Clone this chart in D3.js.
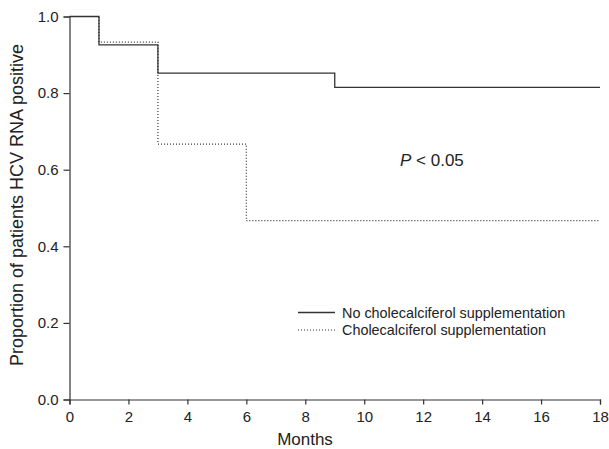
<!DOCTYPE html>
<html><head><meta charset="utf-8">
<script src="https://cdn.jsdelivr.net/npm/d3@7"></script>
<style>body{margin:0;background:#fff}svg{display:block}text{font-family:"Liberation Sans",Arial,sans-serif;fill:#222}</style>
</head><body><svg id="c" width="609" height="449"></svg>
<script>
// step-function data (time in months, survival proportion)
const noSuppTimes = [0, 1, 3, 9, 18];
const noSuppValues = [1.0, 0.926, 0.852, 0.815, 0.815];
const suppTimes = [0, 1, 3, 6, 18];
const suppValues = [1.0, 0.933, 0.667, 0.467, 0.467];
const xTicks = [0, 2, 4, 6, 8, 10, 12, 14, 16, 18];
const yTicks = [0.0, 0.2, 0.4, 0.6, 0.8, 1.0];
const legendLabels = ["No cholecalciferol supplementation", "Cholecalciferol supplementation"];

const svg = d3.select("#c");
const x = d3.scaleLinear().domain([0, 18]).range([69.5, 600]);
const y = d3.scaleLinear().domain([0, 1]).range([399.5, 16.5]);
const ink = "#333";

const xAxis = svg.append("g").attr("transform", "translate(0,399.5)")
  .call(d3.axisBottom(x).tickValues(xTicks).tickSize(5).tickPadding(7).tickFormat(d3.format("d")));
const yAxis = svg.append("g").attr("transform", "translate(69.5,0)")
  .call(d3.axisLeft(y).tickValues(yTicks).tickSize(6).tickPadding(5).tickFormat(d3.format(".1f")));
[xAxis, yAxis].forEach(a => {
  a.select(".domain").attr("stroke", ink).attr("stroke-width", 1.2);
  a.selectAll(".tick line").attr("stroke", ink).attr("stroke-width", 1.2);
  a.selectAll("text").attr("font-size", 15).attr("fill", "#222").style("font-family", '"Liberation Sans",Arial,sans-serif');
});

const line = d3.line().x(d => x(d[0])).y(d => y(d[1])).curve(d3.curveStepAfter);
const sData = noSuppTimes.map((t, i) => [t, noSuppValues[i]]);
const dData = suppTimes.map((t, i) => [t, suppValues[i]]);
svg.append("path").attr("d", line(sData)).attr("fill", "none").attr("stroke", ink).attr("stroke-width", 1.3);
svg.append("path").attr("d", line(dData)).attr("fill", "none").attr("stroke", ink).attr("stroke-width", 1.2).attr("stroke-dasharray", "1,2");

svg.append("text").attr("x", 305).attr("y", 445).attr("text-anchor", "middle").attr("font-size", 17).text("Months");
svg.append("text").attr("transform", "translate(23,205) rotate(-90)").attr("text-anchor", "middle").attr("font-size", 18).text("Proportion of patients HCV RNA positive");

const p = svg.append("text").attr("x", 400).attr("y", 166).attr("font-size", 17);
p.append("tspan").attr("font-style", "italic").text("P");
p.append("tspan").text(" < 0.05");

legendLabels.forEach((lab, i) => {
  const ly = 312.5 + i * 17.5;
  svg.append("line").attr("x1", 298).attr("x2", 335).attr("y1", ly).attr("y2", ly)
    .attr("stroke", ink).attr("stroke-width", i === 0 ? 1.3 : 1.2).attr("stroke-dasharray", i === 0 ? null : "1,2");
  svg.append("text").attr("x", 342).attr("y", ly + 5).attr("font-size", 14.4).text(lab);
});
</script></body></html>
